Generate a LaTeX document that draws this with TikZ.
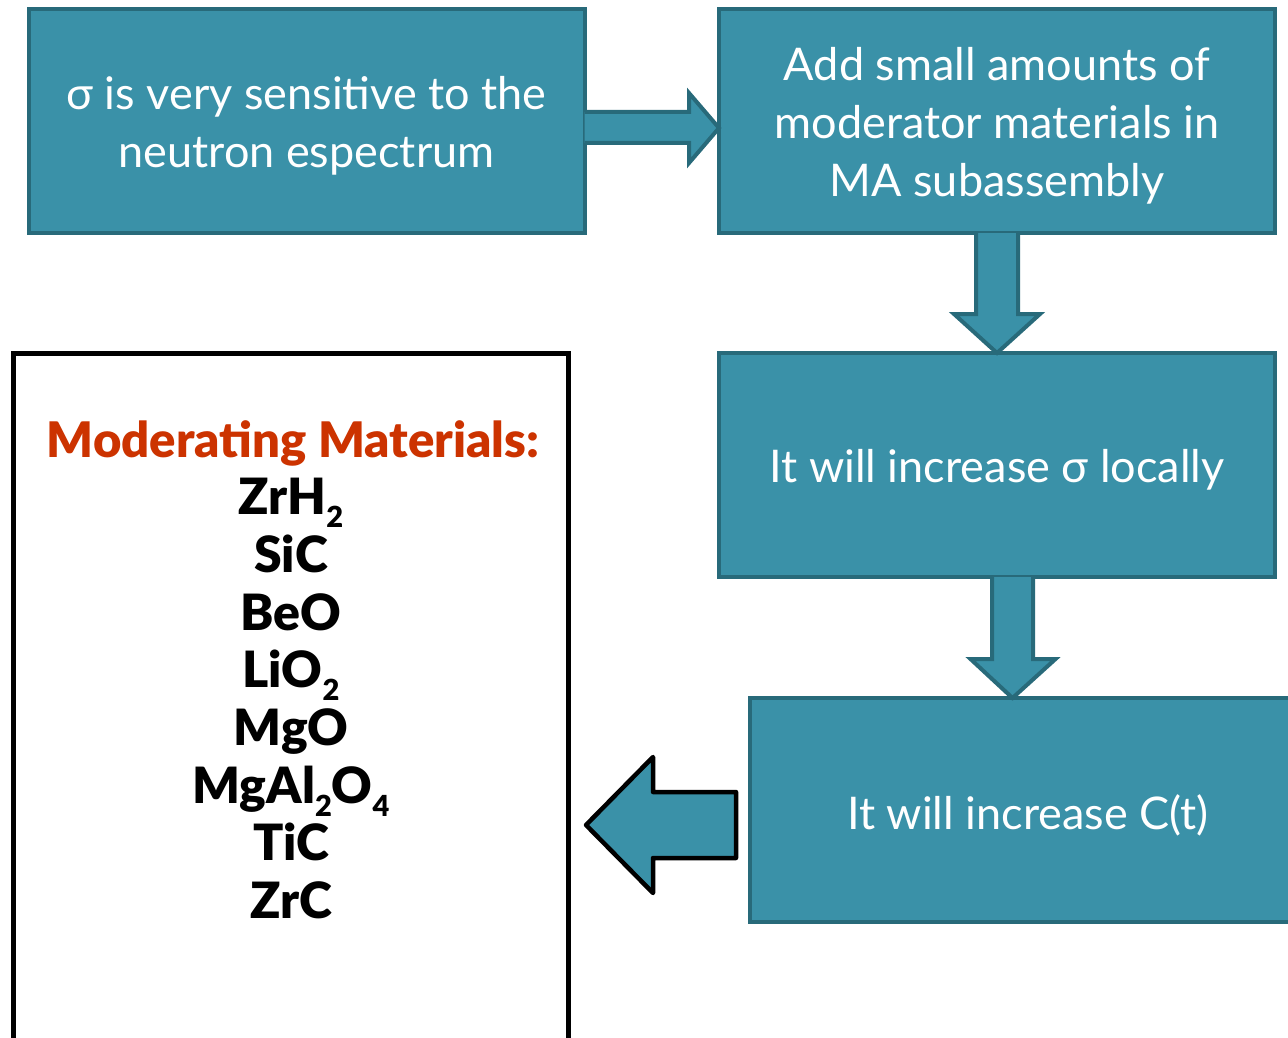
\documentclass[tikz,border=0pt]{standalone}
\usepackage{fontspec}
\setmainfont{Lato}
\newfontfamily\heavyfont{Lato Black}
\usetikzlibrary{calc}
\definecolor{tealfill}{RGB}{58,145,168}
\definecolor{tealline}{RGB}{40,106,122}
\definecolor{headred}{RGB}{204,51,0}
\newcommand{\sbs}[1]{\raisebox{-13pt}{\fontsize{29}{29}\selectfont #1}}
\tikzset{
  every node/.style={outer sep=0pt},
  stepbox/.style={rectangle, fill=tealfill, draw=tealline, line width=4pt,
    minimum width=556pt, minimum height=224pt, inner sep=0pt},
  steptext/.style={text=white, align=center, inner sep=0pt, yshift=-5pt,
    font=\fontsize{45}{58}\selectfont},
  listbox/.style={rectangle, draw=black, line width=5pt, fill=white,
    minimum width=555pt, minimum height=720pt, inner sep=0pt, anchor=north west},
  tealarrow/.style={fill=tealfill, draw=tealline, line width=4pt, line join=miter},
  outarrow/.style={fill=tealfill, draw=black, line width=4.5pt, line join=round},
  mat/.style={anchor=base, inner sep=0pt, font=\heavyfont\fontsize{50}{50}\selectfont}
}
\begin{document}
\begin{tikzpicture}[x=1pt,y=-1pt]
\clip (0,0) rectangle (1288,1038);
\fill[white] (0,0) rectangle (1288,1038);

% flow boxes
\node[stepbox, label={[steptext]center:σ is very sensitive to the\\neutron espectrum}]
  (b1) at (306.5,121) {};
\node[stepbox, label={[steptext]center:Add small amounts of\\moderator materials in\\MA subassembly}]
  (b2) at (997,121) {};
\node[stepbox, label={[steptext]center:It will increase σ locally}]
  (b3) at (997,465) {};
\node[stepbox, label={[steptext]center:It will increase C(t)}]
  (b4) at (1028,810) {};

% list of materials
\node[listbox] (lb) at (13.5,353) {};
\node[anchor=base, inner sep=0pt, text=headred, font=\heavyfont\fontsize{49}{49}\selectfont]
  (head) at (293,457) {Moderating Materials:};
\foreach \i/\m in {1/ZrH\sbs{2}, 2/SiC, 3/BeO, 4/LiO\sbs{2}, 5/MgO,
                   6/MgAl\sbs{2}O\sbs{4}, 7/TiC, 8/ZrC}
  \node[mat] (m\i) at (291,{457+57.7*\i}) {\m};

% block arrow b1 -> b2
\draw[tealarrow]
  ($(b1.east)+(0,-9)$) -- ($(b2.west)+(-30,-9)$) -- ($(b2.west)+(-30,-28)$)
  -- ($(b2.west)+(0,7)$)
  -- ($(b2.west)+(-30,42)$) -- ($(b2.west)+(-30,22)$) -- ($(b1.east)+(0,22)$);

% block arrow b2 -> b3
\draw[tealarrow]
  ($(b2.south)+(-21,0)$) -- ($(b3.north)+(-21,-39)$) -- ($(b3.north)+(-43,-39)$)
  -- (b3.north)
  -- ($(b3.north)+(43,-39)$) -- ($(b3.north)+(21,-39)$) -- ($(b2.south)+(21,0)$);

% block arrow b3 -> b4
\coordinate (t4) at ($(b4.north)+(-15.5,0)$);
\draw[tealarrow]
  ($(b3.south)+(-5,0)$) -- ($(t4)+(-20.5,-39)$) -- ($(t4)+(-42,-39)$)
  -- (t4)
  -- ($(t4)+(43,-39)$) -- ($(t4)+(20.5,-39)$) -- ($(b3.south)+(36,0)$);

% block arrow from b4 towards the list
\coordinate (tip) at ($(b4.west)+(-164,15)$);
\draw[outarrow]
  (tip) -- ($(tip)+(67,-68)$) -- ($(tip)+(67,-33)$) -- ($(tip)+(150,-33)$)
  -- ($(tip)+(150,33)$) -- ($(tip)+(67,33)$) -- ($(tip)+(67,68)$) -- cycle;
\end{tikzpicture}
\end{document}
